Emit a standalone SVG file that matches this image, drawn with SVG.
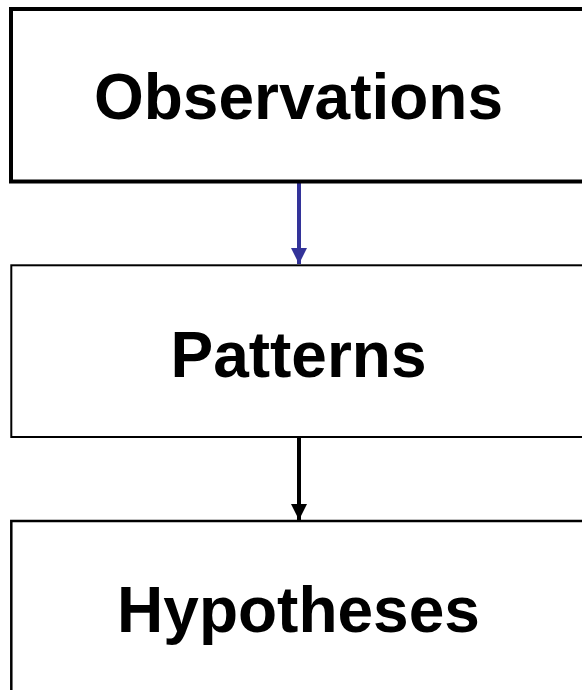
<svg xmlns="http://www.w3.org/2000/svg" width="582" height="690" viewBox="0 0 582 690">
<style>
.box{fill:#fff;stroke:#000}
.lbl{font-family:"Liberation Sans",Arial,sans-serif;font-weight:bold;font-size:64px;fill:#000;text-anchor:middle}
</style>
<defs>
<marker id="ab" markerUnits="userSpaceOnUse" markerWidth="16" markerHeight="16" refX="16" refY="8" orient="auto" viewBox="0 0 16 16"><path d="M0,0 L16,8 L0,16 Z" fill="#333399"/></marker>
<marker id="ak" markerUnits="userSpaceOnUse" markerWidth="16" markerHeight="16" refX="16" refY="8" orient="auto" viewBox="0 0 16 16"><path d="M0,0 L16,8 L0,16 Z" fill="#000"/></marker>
</defs>
<rect width="582" height="690" fill="#fff"/>
<g id="connectors">
<line x1="299" y1="183" x2="299" y2="264" stroke="#333399" stroke-width="4" marker-end="url(#ab)"/>
<line x1="299" y1="438" x2="299" y2="520" stroke="#000" stroke-width="4" marker-end="url(#ak)"/>
</g>
<g id="observations">
<rect class="box" x="11" y="9" width="576" height="172.5" stroke-width="4"/>
<text class="lbl" x="298.5" y="119">Observations</text>
</g>
<g id="patterns">
<rect class="box" x="11.3" y="265.3" width="576" height="171.7" stroke-width="2"/>
<text class="lbl" x="298.5" y="377">Patterns</text>
</g>
<g id="hypotheses">
<rect class="box" x="11.3" y="521" width="576" height="180" stroke-width="2.5"/>
<text class="lbl" x="298.5" y="632">Hypotheses</text>
</g>
</svg>
